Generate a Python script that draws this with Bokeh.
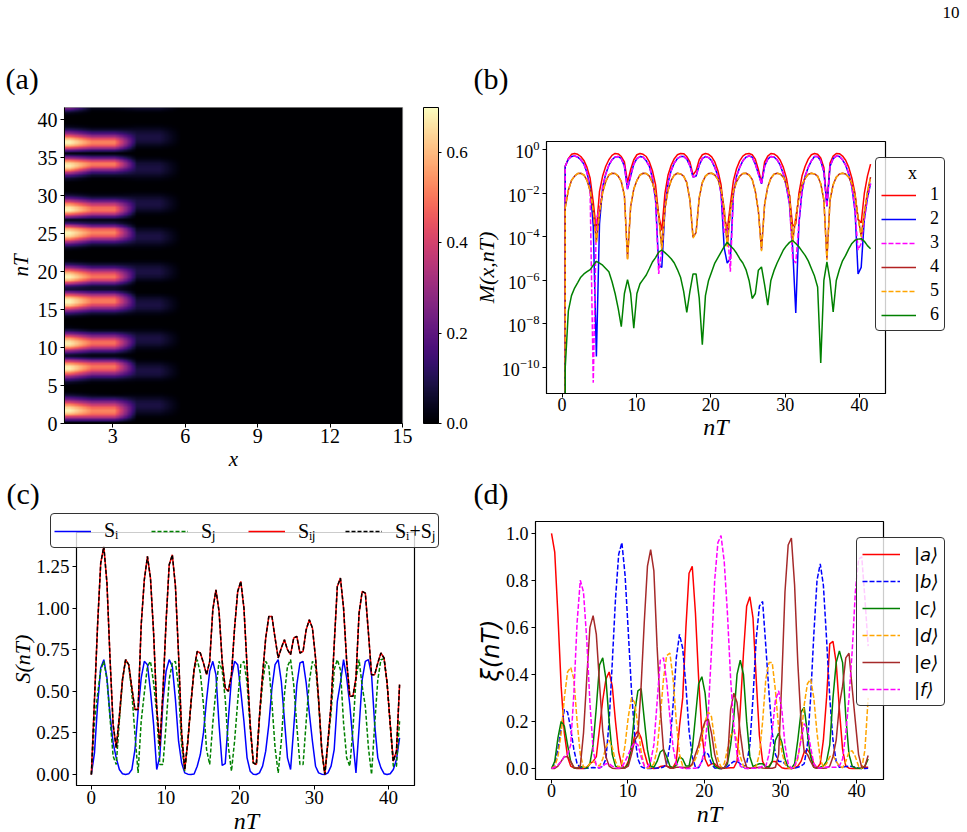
import numpy as np
from bokeh.embed import file_html
from bokeh.resources import INLINE
from bokeh.layouts import column, row
from bokeh.models import (ColorBar, FixedTicker, Label, Legend, LegendItem, LinearColorMapper,
                          LogTickFormatter, PrintfTickFormatter, Range1d)
from bokeh.palettes import Magma256
from bokeh.plotting import figure

nT = [0,.42,.84,1.26,1.68,2.10,2.51,2.93,3.35,3.77,
      4.19,4.61,5.03,5.45,5.87,6.29,6.71,7.13,7.55,7.96,
      8.38,8.80,9.22,9.64,10.06,10.48,10.90,11.32,11.74,12.15,
      12.57,12.99,13.41,13.83,14.25,14.67,15.09,15.51,15.93,16.35,
      16.77,17.19,17.61,18.02,18.44,18.86,19.28,19.70,20.12,20.54,
      20.96,21.38,21.80,22.21,22.63,23.05,23.47,23.89,24.31,24.73,
      25.15,25.57,25.99,26.40,26.82,27.24,27.66,28.08,28.50,28.92,
      29.34,29.76,30.18,30.59,31.01,31.43,31.85,32.27,32.69,33.11,
      33.53,33.95,34.37,34.79,35.21,35.62,36.04,36.46,36.88,37.30,
      37.72,38.14,38.56,38.98,39.40,39.81,40.23,40.65,41.07,41.49]
# panel (b) traces rise from below the axis at the second sample
nT_b = [.42] + nT[1:]

log_M1 = [-13,-.75,-.4,-.2,-.16,-.2,-.3,-.48,-.8,-1.3,
          -2.4,-3.7,-1.9,-1.2,-.75,-.45,-.25,-.16,-.18,-.3,
          -.55,-1.5,-.9,-.45,-.22,-.16,-.2,-.3,-.55,-.95,
          -1.6,-3.0,-3.7,-2.0,-1.15,-.7,-.4,-.22,-.16,-.17,
          -.3,-.55,-1.15,-.95,-.45,-.22,-.16,-.2,-.32,-.55,
          -.95,-1.6,-3.0,-3.7,-2.5,-1.4,-.85,-.5,-.28,-.18,
          -.16,-.22,-.42,-.9,-1.5,-.55,-.28,-.16,-.18,-.28,
          -.47,-.8,-1.3,-2.1,-3.5,-3.4,-2.0,-1.2,-.75,-.42,
          -.22,-.16,-.2,-.37,-.8,-2.5,-.6,-.28,-.16,-.17,
          -.28,-.47,-.8,-1.3,-2.0,-3.2,-3.35,-2.0,-1.2,-.65]
log_M2 = [-13,-.75,-.42,-.3,-.28,-.33,-.45,-.65,-1.05,-1.7,
          -3.5,-9.5,-3.4,-1.7,-1.1,-.7,-.45,-.32,-.3,-.4,
          -.75,-1.8,-1.2,-.65,-.4,-.3,-.33,-.5,-.75,-1.3,
          -2.3,-5.3,-5.4,-2.7,-1.5,-.95,-.6,-.4,-.3,-.3,
          -.42,-.72,-1.25,-1.2,-.7,-.4,-.3,-.35,-.5,-.8,
          -1.2,-2.0,-4.5,-5.2,-5.0,-2.0,-1.2,-.8,-.5,-.33,
          -.28,-.33,-.65,-1.1,-1.56,-.75,-.42,-.3,-.32,-.45,
          -.7,-1.1,-1.7,-2.5,-4.5,-7.5,-3.4,-1.9,-1.2,-.8,
          -.5,-.3,-.3,-.5,-1.0,-2.6,-.75,-.4,-.28,-.3,
          -.45,-.7,-1.1,-1.7,-2.8,-5.7,-5.4,-3.2,-2.2,-1.55]
log_M3 = [-13,-.75,-.42,-.3,-.28,-.33,-.45,-.65,-1.05,-2.0,
          -10.7,-3.2,-2.7,-1.7,-1.1,-.7,-.45,-.32,-.3,-.4,
          -.75,-1.8,-1.2,-.65,-.4,-.3,-.33,-.5,-.75,-1.3,
          -2.3,-5.7,-4.6,-2.7,-1.5,-.95,-.6,-.4,-.3,-.3,
          -.42,-.72,-1.25,-1.2,-.7,-.4,-.3,-.35,-.5,-.8,
          -1.2,-2.0,-3.8,-3.5,-5.6,-2.0,-1.2,-.8,-.5,-.33,
          -.28,-.33,-.65,-1.1,-1.56,-.75,-.42,-.3,-.32,-.45,
          -.7,-1.1,-1.7,-2.5,-5.0,-5.2,-3.4,-1.9,-1.2,-.8,
          -.5,-.3,-.3,-.5,-1.0,-2.6,-.75,-.4,-.28,-.3,
          -.45,-.7,-1.1,-1.7,-2.8,-4.6,-4.3,-3.2,-2.2,-1.55]
log_M4 = [-13,-2.65,-1.85,-1.4,-1.2,-1.08,-1.07,-1.15,-1.4,-1.85,
          -2.8,-4.2,-2.9,-1.95,-1.45,-1.15,-1.07,-1.08,-1.2,-1.45,
          -2.1,-5.0,-2.6,-1.8,-1.4,-1.15,-1.07,-1.08,-1.2,-1.5,
          -2.0,-3.0,-4.5,-2.7,-1.85,-1.4,-1.15,-1.07,-1.1,-1.2,
          -1.5,-2.3,-4.0,-3.8,-2.2,-1.5,-1.2,-1.08,-1.07,-1.15,
          -1.35,-1.8,-2.7,-4.4,-2.8,-1.9,-1.45,-1.2,-1.08,-1.07,
          -1.15,-1.35,-1.9,-2.8,-4.6,-2.5,-1.7,-1.3,-1.12,-1.07,
          -1.1,-1.25,-1.55,-2.1,-4.2,-3.1,-2.2,-1.6,-1.3,-1.12,
          -1.07,-1.1,-1.2,-1.55,-2.3,-5.0,-2.3,-1.6,-1.25,-1.1,
          -1.07,-1.1,-1.25,-1.55,-2.1,-3.1,-3.95,-2.9,-1.95,-1.25]
log_M5 = [-13,-2.65,-1.85,-1.4,-1.2,-1.08,-1.07,-1.15,-1.4,-1.85,
          -2.8,-4.25,-2.9,-1.95,-1.45,-1.15,-1.07,-1.08,-1.2,-1.45,
          -2.1,-5.07,-2.6,-1.8,-1.4,-1.15,-1.07,-1.08,-1.2,-1.5,
          -2.0,-3.0,-4.6,-2.7,-1.85,-1.4,-1.15,-1.07,-1.1,-1.2,
          -1.5,-2.3,-4.05,-3.8,-2.2,-1.5,-1.2,-1.08,-1.07,-1.15,
          -1.35,-1.8,-2.7,-4.45,-2.8,-1.9,-1.45,-1.2,-1.08,-1.07,
          -1.15,-1.35,-1.9,-2.8,-4.65,-2.5,-1.7,-1.3,-1.12,-1.07,
          -1.1,-1.25,-1.55,-2.1,-4.25,-3.1,-2.2,-1.6,-1.3,-1.12,
          -1.07,-1.1,-1.2,-1.55,-2.3,-5.07,-2.3,-1.6,-1.25,-1.1,
          -1.07,-1.1,-1.25,-1.55,-2.1,-3.1,-4.0,-2.9,-1.95,-1.25]
log_M6 = [-13,-10,-7.4,-6.7,-6.35,-6.1,-5.85,-5.7,-5.6,-5.5,
          -5.3,-5.12,-5.2,-5.3,-5.45,-5.6,-6.05,-6.6,-7.3,-8.13,
          -6.6,-5.96,-6.6,-8.2,-6.6,-6.15,-5.95,-5.75,-5.45,-5.15,
          -4.95,-4.7,-4.6,-4.72,-4.85,-5.0,-5.2,-5.5,-5.85,-6.5,
          -7.47,-6.5,-5.7,-5.7,-6.8,-8.95,-6.7,-6.0,-5.6,-5.2,
          -4.95,-4.7,-4.45,-4.24,-4.4,-4.55,-4.75,-5.0,-5.2,-5.5,
          -6.0,-6.83,-6.6,-5.53,-5.38,-6.2,-7.14,-6.0,-5.55,-5.2,
          -4.9,-4.6,-4.4,-4.25,-4.16,-4.3,-4.45,-4.65,-4.85,-5.1,
          -5.45,-5.8,-6.3,-9.8,-6.0,-5.15,-6.0,-7.45,-6.0,-5.5,
          -5.1,-4.85,-4.55,-4.3,-4.15,-4.1,-4.08,-4.2,-4.4,-4.54]

S_i = [0,.13,.42,.64,.69,.58,.36,.19,.10,.03,
       .005,0,.004,.03,.15,.38,.58,.68,.66,.5,
       .3,.03,.11,.44,.62,.69,.65,.45,.2,.07,
       .01,.002,0,.003,.05,.12,.25,.45,.62,.68,
       .6,.3,.055,.065,.33,.58,.68,.66,.5,.32,
       .1,.02,.001,0,.01,.05,.14,.3,.52,.66,
       .69,.56,.33,.1,.03,.28,.54,.67,.68,.55,
       .37,.2,.05,.01,.002,0,.01,.05,.15,.44,
       .55,.69,.58,.42,.2,.01,.28,.57,.68,.69,
       .6,.3,.1,.04,.005,0,.005,.03,.09,.22]
S_j = [0,.32,.48,.63,.68,.57,.34,.11,.06,.32,
       .565,.69,.656,.49,.24,.01,.32,.49,.65,.68,
       .55,.37,.06,.06,.30,.57,.67,.68,.52,.18,
       .02,.2,.43,.63,.69,.61,.42,.15,.06,.31,
       .51,.68,.625,.455,.17,.02,.2,.44,.66,.68,
       .55,.28,.069,.06,.34,.55,.68,.65,.43,.16,
       .01,.2,.48,.65,.69,.54,.29,.06,.06,.32,
       .56,.68,.65,.44,.148,0,.19,.37,.63,.69,
       .63,.31,.1,.05,.27,.57,.69,.53,.41,.16,
       0,.3,.57,.69,.695,.55,.3,.05,.05,.32]
S_ij = [0,.45,.90,1.27,1.37,1.15,.70,.30,.16,.35,
        .57,.69,.66,.52,.39,.39,.90,1.17,1.31,1.18,
        .85,.40,.17,.50,.92,1.26,1.32,1.13,.72,.25,
        .03,.20,.43,.63,.74,.73,.67,.60,.68,.99,
        1.11,.98,.68,.52,.50,.60,.88,1.10,1.16,1.00,
        .65,.30,.07,.06,.35,.60,.82,.95,.95,.82,
        .70,.76,.81,.75,.72,.82,.83,.73,.74,.87,
        .93,.88,.70,.45,.15,0,.20,.42,.78,1.13,
        1.18,1.00,.68,.47,.47,.58,.97,1.10,1.09,.85,
        .60,.60,.67,.73,.70,.55,.30,.08,.14,.54]

xi_a = [1.0,.92,.65,.35,.15,.05,.01,.002,0,0,
        0,.005,.02,.03,.05,.17,.29,.38,.41,.35,
        .2,.07,.01,.003,.03,.08,.14,.16,.13,.07,
        .02,.002,0,.001,.008,.01,.01,.005,.005,.03,
        .18,.3,.6,.83,.86,.66,.38,.15,.04,.01,
        .02,.02,.005,0,.001,.002,.003,.003,.03,.25,
        .49,.69,.73,.64,.38,.14,.03,.004,.01,.03,
        .03,.015,.003,0,0,0,.002,.01,.03,.07,
        .08,.06,.02,.002,.02,.12,.3,.53,.54,.45,
        .25,.08,.01,.001,0,0,0,.002,.005,.005]
xi_b = [0,.02,.08,.17,.25,.24,.17,.08,.02,.003,
        0,.001,.003,.004,.003,.002,.01,.04,.2,.45,
        .72,.91,.96,.82,.58,.33,.14,.04,.008,.002,
        0,0,.001,.002,.002,.006,.02,.1,.27,.47,
        .57,.51,.35,.16,.05,.005,.003,.03,.07,.06,
        .02,.002,0,0,.002,.008,.02,.03,.03,.02,
        .005,.02,.1,.3,.55,.69,.71,.52,.32,.15,
        .06,.03,.03,.02,.005,0,.001,.005,.01,.02,
        .1,.3,.57,.8,.87,.78,.55,.3,.12,.03,
        .005,.005,.008,.01,.008,.005,.001,0,0,.001]
xi_c = [0,.03,.13,.2,.18,.1,.03,.003,.001,.008,
        .005,.001,.02,.1,.26,.44,.47,.38,.2,.06,
        .01,.002,.001,.003,.02,.1,.24,.33,.34,.21,
        .08,.01,.005,.03,.07,.08,.05,.01,.001,.015,
        .05,.04,.01,.01,.08,.22,.36,.39,.32,.17,
        .05,.01,.001,0,.002,.02,.1,.22,.4,.46,
        .4,.2,.05,.008,.015,.02,.02,.008,.005,.03,
        .12,.15,.11,.04,.005,0,.02,.12,.24,.26,
        .15,.05,.005,.001,.005,.01,.03,.1,.3,.45,
        .5,.45,.22,.06,.01,.002,.001,0,.01,.04]
xi_d = [0,.01,.05,.15,.3,.41,.43,.38,.2,.06,
        .005,.005,.02,.03,.02,.01,.04,.09,.12,.09,
        .03,.003,.02,.1,.22,.3,.28,.18,.07,.01,
        .001,.003,.02,.08,.22,.38,.48,.49,.38,.2,
        .06,.01,0,.003,.015,.04,.08,.13,.2,.24,
        .22,.12,.04,.005,.02,.08,.14,.16,.12,.05,
        .01,0,.001,.002,.01,.06,.2,.38,.45,.45,
        .33,.17,.07,.02,.002,0,.005,.04,.13,.27,
        .36,.38,.3,.15,.04,.005,.02,.05,.055,.03,
        .01,.003,.03,.07,.075,.05,.01,0,.08,.3]
xi_e = [0,0,.01,.03,.05,.05,.03,.005,.001,.01,
        .15,.38,.6,.65,.57,.36,.16,.05,.01,.001,
        0,0,.001,.002,.01,.06,.12,.14,.35,.62,
        .86,.93,.84,.52,.26,.08,.01,.001,.001,.005,
        .005,.005,.003,.005,.02,.06,.1,.16,.2,.21,
        .15,.06,.01,0,.002,.03,.25,.32,.28,.15,
        .05,.005,.001,.002,.003,.005,.002,.001,.001,.001,
        .005,.06,.38,.75,.95,.98,.78,.45,.2,.07,
        .06,.03,.005,.001,.001,.001,.002,.01,.05,.12,
        .27,.35,.47,.49,.34,.2,.06,.004,.01,.055]
xi_f = [0,.005,.015,.03,.05,.06,.1,.32,.62,.8,
        .75,.55,.28,.08,.01,.001,.01,.02,.02,.01,
        .003,.001,.005,.03,.06,.09,.11,.1,.05,.01,
        .005,.03,.1,.28,.46,.47,.37,.22,.09,.02,
        .005,.001,0,0,.001,.001,.005,.03,.1,.24,
        .5,.8,.96,.99,.88,.66,.38,.18,.06,.01,
        .001,0,0,.001,.001,.003,.01,.01,.06,.16,
        .29,.33,.25,.1,.02,0,.01,.05,.12,.19,
        .17,.09,.02,.002,.002,.005,.006,.005,.005,.005,
        .01,.04,.15,.3,.5,.75,.89,.9,.72,.52]

x_ticks_a = [3, 6, 9, 12, 15]
y_ticks_a = [0, 5, 10, 15, 20, 25, 30, 35, 40]
cb_ticks = [0.0, 0.2, 0.4, 0.6]
x_ticks = [0, 10, 20, 30, 40]
log_ticks = [1, 1e-2, 1e-4, 1e-6, 1e-8, 1e-10]
s_ticks = [0.0, 0.25, 0.5, 0.75, 1.0, 1.25]
xi_ticks = [0.0, 0.2, 0.4, 0.6, 0.8, 1.0]

SERIF = "Liberation Serif"


def style(p, tick_px, standoff=1):
    p.toolbar_location = None
    p.grid.visible = False
    p.outline_line_color = "black"
    p.outline_line_width = 1.2
    p.frame_align = False
    for ax in list(p.xaxis) + list(p.yaxis):
        ax.axis_line_color = "black"
        ax.major_tick_out = 4
        ax.major_tick_in = 0
        ax.minor_tick_out = 0
        ax.minor_tick_in = 0
        ax.major_tick_line_color = "black"
        ax.major_label_text_font = SERIF
        ax.major_label_text_font_size = f"{tick_px}px"
        ax.major_label_text_color = "black"
        ax.axis_label_text_font = SERIF
        ax.axis_label_text_font_style = "italic"
        ax.axis_label_text_color = "black"
    p.xaxis.major_label_standoff = standoff
    p.yaxis.major_label_standoff = 3


def legend_common(lg, font):
    lg.background_fill_color = "white"
    lg.background_fill_alpha = 0.8
    lg.border_line_color = "#333333"
    lg.border_line_alpha = 1
    lg.border_line_width = 1
    lg.label_text_font = font
    lg.label_text_color = "black"
    lg.margin = 0
    if "border_radius" in lg.properties():
        lg.border_radius = 4


# --- (a) ---
col_x = 1.2 + np.arange(15) * 14 / 15
fine_x = np.linspace(1, 15, 421)
fine_y = np.linspace(0, 41.6, 417)
cols = [10.0 ** np.array(c) for c in (log_M1, log_M2, log_M3, log_M4, log_M5, log_M6)]
grid = np.zeros((15, 100))
grid[:6] = np.array(cols)
by_row = np.array([np.interp(fine_x, col_x, grid[:, i]) for i in range(100)])
field = np.array([np.interp(fine_y, nT, by_row[:, j]) for j in range(fine_x.size)]).T

pa = figure(width=470, height=476, output_backend="svg", toolbar_location=None,
            x_range=Range1d(1, 15), y_range=Range1d(0, 41.6),
            min_border_left=64, min_border_right=66, min_border_top=107, min_border_bottom=53,
            x_axis_label="x", y_axis_label="nT")
mapper = LinearColorMapper(palette=Magma256, low=0, high=0.7)
pa.image(image=[field], x=1, y=0, dw=14, dh=41.6, color_mapper=mapper)
style(pa, 20)
pa.outline_line_color = "#999999"
pa.xaxis.ticker = FixedTicker(ticks=x_ticks_a)
pa.yaxis.ticker = FixedTicker(ticks=y_ticks_a)
pa.xaxis.axis_label_text_font_size = "21px"
pa.yaxis.axis_label_text_font_size = "21px"
pa.xaxis.axis_label_standoff = 1
pa.yaxis.axis_label_standoff = 2
cb = ColorBar(color_mapper=mapper, ticker=FixedTicker(ticks=cb_ticks), width=15, height=316,
              formatter=PrintfTickFormatter(format="%.1f"),
              padding=0, margin=0, major_tick_out=3, major_tick_in=0,
              major_label_text_font=SERIF, major_label_text_font_size="17px",
              major_label_text_color="black", major_tick_line_color="black",
              bar_line_color="black", label_standoff=5, location=(21, 0))
pa.add_layout(cb, "right")

# --- (b) ---
pb = figure(width=497, height=476, output_backend="svg", toolbar_location=None, y_axis_type="log",
            x_range=Range1d(-2.1, 43.5), y_range=Range1d(10 ** -11.2, 10 ** 0.39),
            min_border_left=76, min_border_right=82, min_border_top=141, min_border_bottom=83,
            x_axis_label="nT", y_axis_label="M(x,nT)")
specs_b = [("1", log_M1, "red", "solid"), ("2", log_M2, "blue", "solid"),
           ("3", log_M3, "magenta", "5 2"), ("4", log_M4, "firebrick", "solid"),
           ("5", log_M5, "orange", "5 2"), ("6", log_M6, "green", "solid")]
for name, vals, colr, dash in specs_b:
    pb.line(nT_b, 10.0 ** np.array(vals), line_color=colr, line_width=1.5, line_dash=dash)
style(pb, 18, 0)
pb.xaxis.ticker = FixedTicker(ticks=x_ticks)
pb.yaxis.ticker = FixedTicker(ticks=log_ticks)
pb.yaxis.formatter = LogTickFormatter()
pb.xaxis.axis_label_text_font_size = "24px"
pb.yaxis.axis_label_text_font_size = "22px"
pb.xaxis.axis_label_standoff = 0
pb.yaxis.axis_label_standoff = 0

# --- (c) ---
pc = figure(width=470, height=356, output_backend="svg", toolbar_location=None,
            x_range=Range1d(-2.0, 43.5), y_range=Range1d(-0.066, 1.454),
            min_border_left=76, min_border_right=56, min_border_top=56, min_border_bottom=47,
            y_axis_label="S(nT)")
pc.line(nT, S_i, line_color="blue", line_width=1.5)
pc.line(nT, S_j, line_color="green", line_width=1.5, line_dash="4 2")
pc.line(nT, S_ij, line_color="red", line_width=1.5)
pc.line(nT, np.array(S_i) + np.array(S_j), line_color="black", line_width=1.5, line_dash="4 2")
style(pc, 19, 1)
pc.xaxis.ticker = FixedTicker(ticks=x_ticks)
pc.yaxis.ticker = FixedTicker(ticks=s_ticks)
pc.yaxis.major_label_overrides = {t: f"{t:.2f}" for t in s_ticks}
pc.yaxis.axis_label_text_font_size = "22px"
pc.yaxis.axis_label_standoff = -2

# --- (d) ---
pd = figure(width=497, height=356, output_backend="svg", toolbar_location=None,
            x_range=Range1d(-2.1, 43.5), y_range=Range1d(-0.047, 1.05),
            min_border_left=65, min_border_right=84, min_border_top=45, min_border_bottom=53,
            x_axis_label="nT", y_axis_label="\u03be(nT)")
specs_d = [("|a\u27e9", xi_a, "red", "solid"), ("|b\u27e9", xi_b, "blue", "5 2"),
           ("|c\u27e9", xi_c, "green", "solid"), ("|d\u27e9", xi_d, "orange", "5 2"),
           ("|e\u27e9", xi_e, "brown", "solid"), ("|f\u27e9", xi_f, "magenta", "5 2")]
for name, vals, colr, dash in specs_d:
    pd.line(nT, vals, line_color=colr, line_width=1.5, line_dash=dash)
style(pd, 18, 0)
pd.xaxis.ticker = FixedTicker(ticks=x_ticks)
pd.yaxis.ticker = FixedTicker(ticks=xi_ticks)
pd.yaxis.major_label_overrides = {t: f"{t:.1f}" for t in xi_ticks}
pd.xaxis.axis_label_text_font_size = "24px"
pd.yaxis.axis_label_text_font = "DejaVu Sans"
pd.yaxis.axis_label_text_font_size = "24px"
pd.xaxis.axis_label_standoff = 1
pd.yaxis.axis_label_standoff = -2

# --- transparent page-sized layer: panel tags and the legends that straddle the frames ---
top = figure(width=967, height=832, output_backend="svg", toolbar_location=None,
             x_range=Range1d(0, 967), y_range=Range1d(832, 0), x_axis_location=None,
             y_axis_location=None, min_border=0, background_fill_color=None, border_fill_color=None,
             outline_line_color=None, margin=(-832, 0, 0, 0))
top.grid.visible = False
top.frame_align = False

for text, lx, ly, fs in [("(a)", 5, 78, 30), ("(b)", 473, 78, 30), ("(c)", 6, 493, 30),
                         ("(d)", 473, 493, 30), ("10", 942, 12, 17)]:
    top.add_layout(Label(x=lx, y=ly, text=text, text_font=SERIF, text_font_size=f"{fs}px",
                         text_color="black", text_baseline="middle"))
top.add_layout(Label(x=246, y=820, text="nT", text_font=SERIF, text_font_size="24px",
                     text_font_style="italic", text_color="black", text_align="center",
                     text_baseline="middle"))


def keys(specs):
    out = []
    for name, colr, dash in specs:
        # key only: the sample lies outside the layer's range
        r = top.line([-50, -40], [-50, -50], line_color=colr, line_width=1.5, line_dash=dash)
        out.append(LegendItem(label=name, renderers=[r]))
    return out


# no-break spaces push the left-aligned title to the middle of the box
lb = Legend(items=keys([(s[0], s[2], s[3]) for s in specs_b]), location=(875, 501),
            title="\u00a0\u00a0\u00a0\u00a0\u00a0\u00a0x",
            title_text_font=SERIF, title_text_font_size="18px", title_text_font_style="normal",
            title_text_color="black", title_standoff=0, glyph_width=35, glyph_height=20,
            label_standoff=14, label_width=9, spacing=3, padding=5, label_text_font_size="18px")
legend_common(lb, SERIF)
top.add_layout(lb, "center")

lc = Legend(items=keys([("S\u1d62", "blue", "solid"), ("S\u2c7c", "green", "4 2"),
                        ("S\u1d62\u2c7c", "red", "solid"), ("S\u1d62+S\u2c7c", "black", "4 2")]),
            location=(50, 284), orientation="horizontal", glyph_width=37, glyph_height=18,
            label_standoff=13, label_width=30, spacing=17, padding=3, label_text_font_size="20px")
legend_common(lc, SERIF)
top.add_layout(lc, "center")

ld = Legend(items=keys([(s[0], s[2], s[3]) for s in specs_d]), location=(856, 126), glyph_width=38,
            glyph_height=22, label_standoff=14, spacing=5, padding=5, label_text_font_size="18px")
legend_common(ld, "DejaVu Sans")
ld.label_text_font_style = "italic"
top.add_layout(ld, "center")

page = column(row(pa, pb), row(pc, pd), top)
open("out.html", "w").write(file_html(page, INLINE))
